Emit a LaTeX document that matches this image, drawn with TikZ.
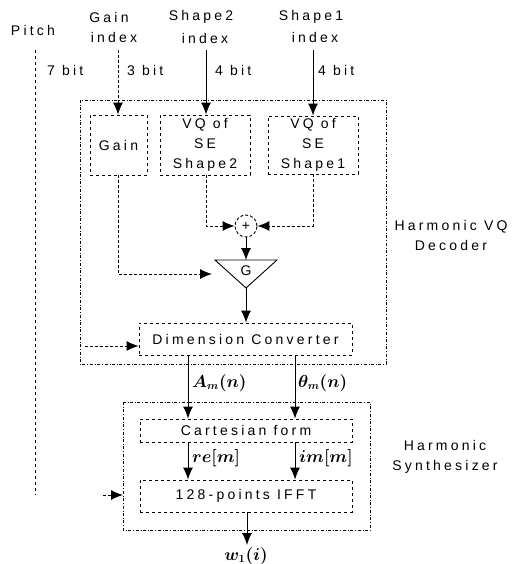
\documentclass[tikz,border=0pt]{standalone}
\usepackage{fontspec}
\setmainfont{Liberation Sans}[LetterSpace=23]
\usetikzlibrary{arrows.meta}
\begin{document}
\begin{tikzpicture}[x=1pt,y=-1pt,
  font=\fontsize{14}{20}\selectfont,
  box/.style={draw, dashed, line width=0.9pt, inner sep=0pt, align=center},
  outer/.style={draw, dash dot, line width=0.9pt},
  arr/.style={-{Latex[length=12pt,width=10pt]}, line width=1pt},
  darr/.style={arr, densely dashed},
  lbl/.style={inner sep=0pt, align=center},
  mlbl/.style={inner sep=0pt, anchor=west, font=\fontsize{16}{18}\selectfont\boldmath}]
\useasboundingbox (0,0) rectangle (512,564);

% top labels
\node[lbl] (pitch) at (33,30) {Pitch};
\node[lbl] (gainT) at (109,17) {Gain};
\node[lbl] (gainI) at (114,37) {index};
\node[lbl] (sh2T) at (201,17) {Shape2};
\node[lbl] (sh2I) at (205,38) {index};
\node[lbl] (sh1T) at (311,17) {Shape1};
\node[lbl] (sh1I) at (315,37) {index};

\node[lbl, anchor=west] (b7) at (47,70) {7 bit};
\node[lbl, anchor=west] (b3) at (127,70) {3 bit};
\node[lbl, anchor=west] (b4a) at (215,70) {4 bit};
\node[lbl, anchor=west] (b4b) at (318,70) {4 bit};

% decoder
\draw[outer] (80,100) rectangle (386,364);
\node[box, minimum width=57pt, minimum height=60pt] (gain) at (118.5,145) {Gain};
\node[box, minimum width=90pt, minimum height=60pt] (vq2) at (205,145) {VQ of\\SE\\Shape2};
\node[box, minimum width=90pt, minimum height=58pt] (vq1) at (313,145) {VQ of\\SE\\Shape1};

\coordinate (g2in) at (118,50);
\coordinate (s2in) at (206,50);
\coordinate (s1in) at (313,50);
\draw[darr] (g2in) -- (gain.north -| g2in);
\draw[arr] (s2in) -- (vq2.north -| s2in);
\draw[arr] (s1in) -- (vq1.north -| s1in);

\node[draw, circle, densely dashed, line width=0.9pt, minimum size=22pt, inner sep=0pt] (add) at (246,226) {+};
\draw[arr, densely dashed] (vq2.south -| 206,0) |- (add.west);
\draw[arr, densely dashed] (vq1.south -| 313,0) |- (add.east);

\coordinate (gtl) at (215,260);
\coordinate (gtr) at (277,260);
\coordinate (gtop) at (246,260);
\coordinate (gb) at (246,288);
\draw[line width=0.9pt] (gtl) -- (gtr) -- (gb) -- cycle;
\node[lbl] (G) at (246,271) {G};
\draw[arr] (add.south) -- (gtop);

\coordinate (gainin) at (212,274);
\draw[darr] (gain.south -| 118,0) |- (gainin);

\node[box, minimum width=213pt, minimum height=32pt] (dim) at (245.5,339) {Dimension Converter};
\draw[arr] (gb) -- (dim.north -| gb);
\coordinate (dimL) at (85,346);
\draw[darr] (dimL) -- (dim.west |- dimL);

% synthesizer
\draw[outer] (123,402) rectangle (370,530);
\node[box, minimum width=212pt, minimum height=23pt] (cart) at (246,430.5) {Cartesian form};
\node[box, minimum width=212pt, minimum height=32pt] (ifft) at (246,496) {128-points IFFT};

\draw[arr] (dim.south -| 188,0) -- (cart.north -| 188,0);
\draw[arr] (dim.south -| 295,0) -- (cart.north -| 295,0);
\node[mlbl] (am) at (192,383) {$A_m(n)$};
\node[mlbl] (th) at (298,383) {$\theta_m(n)$};

\draw[arr] (cart.south -| 188,0) -- (ifft.north -| 188,0);
\draw[arr] (cart.south -| 295,0) -- (ifft.north -| 295,0);
\node[mlbl] (re) at (192,458) {$re[m]$};
\node[mlbl] (im) at (299,458) {$im[m]$};

\coordinate (pbot) at (35,495);
\draw[dashed, line width=0.9pt] (35,50) -- (pbot);
\coordinate (ifL) at (103,495);
\draw[darr] (ifL) -- (123,495);

\coordinate (wout) at (247,545);
\draw[arr] (ifft.south -| wout) -- (wout);
\node[lbl, font=\fontsize{16}{18}\selectfont\boldmath] (w) at (246,556) {$w_1(i)$};

% side labels
\node[lbl] (hvq) at (451,235) {Harmonic VQ\\Decoder};
\node[lbl] (hs) at (445,457) {Harmonic\\Synthesizer};
\end{tikzpicture}
\end{document}
